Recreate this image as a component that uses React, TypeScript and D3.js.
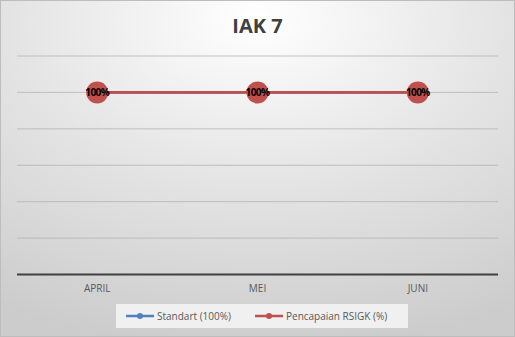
import React from "react";
import * as d3 from "d3";

const categories = ["APRIL", "MEI", "JUNI"];
const standartValues = [1, 1, 1];
const pencapaianValues = [1, 1, 1];
const yTicks = [0, 0.2, 0.4, 0.6, 0.8, 1.0, 1.2];
const seriesNames = ["Standart (100%)", "Pencapaian RSIGK (%)"];
const seriesColors = ["#4F81BD", "#C0504D"];

const W = 515, H = 337;
const left = 17, right = 498, top = 56, bottom = 274.5;

export default function App() {
  const x = d3.scaleBand<string>().domain(categories).range([left, right]);
  const y = d3.scaleLinear().domain([0, 1.2]).range([bottom, top]);
  const cx = (c: string) => (x(c) ?? 0) + x.bandwidth() / 2;
  const line = d3.line<number>().x((_, i) => cx(categories[i])).y((d) => y(d));
  const font = "'Open Sans', 'Noto Sans', sans-serif";

  return (
    <svg width={W} height={H} style={{ position: "absolute", left: 0, top: 0 }} fontFamily={font}>
      <defs>
        <radialGradient id="bg" cx="50%" cy="10%" r="95%" fx="50%" fy="5%">
          <stop offset="0%" stopColor="#ffffff" />
          <stop offset="50%" stopColor="#e4e4e4" />
          <stop offset="100%" stopColor="#cccccc" />
        </radialGradient>
      </defs>
      <rect x={0.5} y={0.5} width={W - 1} height={H - 1} fill="url(#bg)" stroke="#bdbdbd" />
      <text x={W / 2} y={33} textAnchor="middle" fontSize={20} fontWeight="bold" fill="#404040">IAK 7</text>
      {yTicks.slice(1).map((t) => (
        <line key={t} x1={left} x2={right} y1={y(t)} y2={y(t)} stroke="#b4b4b4" strokeWidth={0.8} />
      ))}
      <line x1={left} x2={right} y1={y(0)} y2={y(0)} stroke="#404040" strokeWidth={2.2} />
      {categories.map((c) => (
        <text key={c} x={cx(c)} y={292} textAnchor="middle" fontSize={10} fill="#595959">{c}</text>
      ))}
      <path d={line(standartValues) ?? ""} fill="none" stroke={seriesColors[0]} strokeWidth={2.5} />
      {standartValues.map((v, i) => (
        <circle key={"s" + i} cx={cx(categories[i])} cy={y(v)} r={3} fill={seriesColors[0]} />
      ))}
      <path d={line(pencapaianValues) ?? ""} fill="none" stroke={seriesColors[1]} strokeWidth={2.8} />
      {pencapaianValues.map((v, i) => (
        <g key={"p" + i}>
          <circle cx={cx(categories[i])} cy={y(v)} r={11} fill={seriesColors[1]} />
          <text x={cx(categories[i])} y={y(v) + 3.5} textAnchor="middle" fontSize={10} fontWeight="bold" fill="#000" letterSpacing={-0.6}>
            {Math.round(v * 100) + "%"}
          </text>
        </g>
      ))}
      <rect x={116} y={304} width={292} height={24} fill="#f0f0f0" />
      {seriesNames.map((n, i) => {
        const lx = i === 0 ? 126 : 255;
        return (
          <g key={n}>
            <line x1={lx} x2={lx + 28} y1={316} y2={316} stroke={seriesColors[i]} strokeWidth={2.5} />
            <circle cx={lx + 14} cy={316} r={3} fill={seriesColors[i]} />
            <text x={lx + 31} y={320} fontSize={10} fill="#595959">{n}</text>
          </g>
        );
      })}
    </svg>
  );
}
